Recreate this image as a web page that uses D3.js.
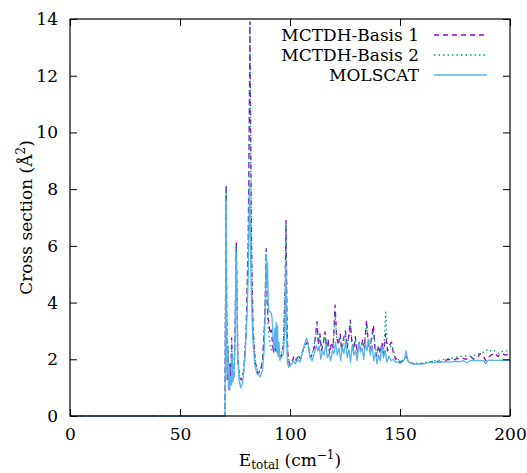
<!DOCTYPE html>
<html>
<head>
<meta charset="utf-8">
<script src="https://cdn.jsdelivr.net/npm/d3@7"></script>
<style>
  body { margin: 0; background: #fff; }
  svg text { font-family: "DejaVu Serif", "Liberation Serif", serif; fill: #000; }
</style>
</head>
<body>
<svg id="chart" width="527" height="473"></svg>
<script>
// MOLSCAT (reference calculation)
const molscatX = [0, 70.4, 70.6, 70.8, 71.0, 71.2, 71.4, 71.7, 72.0, 72.3, 72.6, 73.0, 73.4, 73.7, 74.0, 74.5, 75.0, 75.5, 75.8, 76.2, 76.8, 77.6, 78.5, 79.5, 80.5, 81.2, 81.6, 81.9, 82.3, 83.0, 84.0, 85.0, 86.4, 87.5, 88.3, 88.9, 89.3, 89.6, 89.8, 90.1, 90.5, 91.3, 91.8, 92.3, 92.8, 93.1, 93.4, 93.7, 94.0, 94.3, 94.6, 95.0, 95.4, 96.0, 97.0, 97.7, 98.1, 98.4, 98.8, 99.4, 100.5, 101.5, 102.5, 103.5, 104.5, 105.5, 106.5, 107.5, 108.2, 109.0, 110.0, 111.0, 112.0, 112.6, 113.3, 114.0, 114.8, 115.5, 116.3, 117.0, 117.8, 118.5, 119.3, 120.0, 120.7, 121.5, 122.3, 123.0, 123.8, 124.5, 125.3, 126.0, 126.8, 127.5, 128.3, 129.0, 129.8, 130.5, 131.3, 132.0, 132.8, 133.5, 134.3, 135.0, 135.8, 136.5, 137.3, 138.0, 138.8, 139.5, 140.3, 141.0, 141.8, 142.5, 143.3, 144.0, 145.0, 146.0, 147.0, 148.0, 149.0, 150.0, 151.0, 152.0, 152.8, 153.5, 155.0, 157.0, 159.0, 161.0, 163.0, 165.0, 167.0, 169.0, 171.0, 173.0, 175.0, 177.0, 179.0, 180.5, 182.0, 184.0, 186.0, 188.0, 189.0, 190.0, 192.0, 194.0, 196.0, 198.0, 200.0];
const molscatY = [0, 0, 2.0, 4.5, 7.6, 3.0, 1.5, 2.4, 1.0, 1.8, 0.9, 1.4, 1.1, 2.2, 1.2, 1.5, 2.6, 5.8, 4.6, 2.2, 1.3, 0.99, 1.2, 2.0, 3.6, 5.5, 8.3, 7.0, 4.8, 2.8, 1.8, 1.5, 1.38, 1.6, 2.4, 4.2, 5.7, 4.6, 5.4, 4.0, 3.7, 3.65, 3.5, 2.8, 2.3, 3.1, 2.4, 3.3, 2.3, 3.2, 2.1, 2.6, 1.97, 2.05, 2.2, 3.0, 5.4, 3.0, 1.9, 1.72, 1.8, 1.95, 1.85, 2.0, 1.9, 2.2, 2.5, 2.75, 2.6, 2.1, 1.95, 2.2, 2.5, 2.3, 2.45, 2.0, 2.3, 2.15, 2.55, 2.05, 2.2, 1.95, 2.3, 2.2, 2.6, 2.15, 2.4, 1.95, 2.45, 2.2, 2.65, 2.05, 2.35, 1.9, 2.5, 2.15, 2.3, 1.95, 2.6, 2.25, 2.4, 2.0, 2.55, 2.3, 2.7, 2.15, 2.5, 1.95, 2.25, 1.85, 2.15, 1.95, 2.45, 2.05, 2.3, 1.9, 2.1, 1.95, 2.0, 1.9, 1.9, 1.85, 1.9, 2.0, 2.3, 1.95, 1.85, 1.82, 1.84, 1.85, 1.88, 1.88, 1.9, 1.9, 1.92, 1.9, 1.93, 1.92, 1.95, 1.88, 1.95, 1.95, 1.96, 1.95, 1.85, 1.96, 1.97, 1.96, 1.97, 1.96, 1.97];

// MCTDH-Basis 1
const basis1X = [0, 70.4, 70.6, 70.8, 71.0, 71.2, 71.5, 71.9, 72.2, 72.6, 73.0, 73.5, 73.9, 74.5, 75.0, 75.6, 75.9, 76.3, 77.0, 78.0, 79.0, 80.0, 81.0, 81.5, 81.8, 82.1, 82.5, 83.2, 84.2, 85.3, 86.5, 87.5, 88.5, 89.2, 89.6, 90.0, 90.5, 91.0, 91.5, 92.0, 92.5, 93.0, 93.5, 94.0, 94.6, 95.3, 96.0, 97.0, 97.8, 98.2, 98.6, 99.0, 99.8, 100.8, 101.8, 102.8, 103.8, 104.8, 105.8, 106.8, 107.8, 108.5, 109.3, 110.2, 111.0, 111.7, 112.3, 112.9, 113.6, 114.3, 115.2, 115.9, 116.6, 117.3, 118.0, 118.8, 119.6, 120.5, 121.2, 122.0, 122.8, 123.5, 124.3, 125.2, 126.0, 126.8, 127.4, 128.1, 128.9, 129.7, 130.5, 131.4, 132.2, 133.0, 133.8, 134.8, 135.5, 136.3, 137.1, 137.9, 138.6, 139.4, 140.2, 141.0, 141.8, 142.6, 143.5, 144.3, 145.2, 146.2, 147.0, 148.0, 149.0, 150.0, 151.0, 152.0, 153.0, 154.0, 156.0, 158.0, 160.0, 162.0, 164.0, 166.0, 168.0, 170.0, 172.0, 174.0, 176.0, 178.0, 180.0, 182.0, 183.5, 185.0, 186.5, 188.0, 189.0, 190.0, 191.5, 193.0, 194.5, 196.0, 198.0, 200.0];
const basis1Y = [0, 0, 3.0, 5.0, 8.15, 4.0, 1.2, 2.3, 0.9, 1.8, 1.2, 2.75, 1.3, 1.4, 2.8, 6.1, 4.2, 2.0, 1.35, 1.27, 1.6, 2.8, 6.0, 10.5, 13.9, 10.0, 6.0, 3.0, 1.9, 1.5, 1.55, 1.9, 3.3, 5.9, 4.0, 3.5, 3.2, 2.9, 3.03, 2.6, 2.2, 2.8, 2.3, 2.6, 2.1, 2.08, 2.1, 2.5, 4.5, 6.9, 3.5, 2.2, 1.8, 1.9, 2.1, 1.95, 2.15, 2.0, 2.3, 2.5, 2.6, 2.4, 2.05, 2.2, 2.4, 2.9, 3.33, 2.5, 2.9, 2.3, 2.6, 2.97, 2.4, 2.7, 2.2, 2.6, 2.4, 3.91, 2.8, 2.5, 2.9, 2.3, 2.7, 3.0, 2.4, 2.9, 3.38, 2.6, 2.3, 2.8, 2.2, 2.6, 2.3, 2.7, 2.4, 3.38, 2.6, 2.3, 2.8, 3.2, 2.4, 2.1, 2.5, 2.2, 2.6, 2.2, 2.9, 2.3, 2.5, 2.6, 2.2, 2.0, 2.05, 1.9, 1.95, 2.0, 2.1, 1.9, 1.85, 1.83, 1.85, 1.87, 1.9, 1.95, 1.9, 1.95, 2.0, 1.97, 2.02, 2.05, 2.0, 2.1, 2.0, 2.05, 2.2, 2.1, 1.95, 2.05, 2.15, 2.22, 2.1, 2.2, 2.15, 2.2];

// MCTDH-Basis 2
const basis2X = [0, 70.4, 70.6, 70.8, 71.0, 71.2, 71.5, 71.9, 72.2, 72.6, 73.0, 73.5, 73.9, 74.5, 75.0, 75.6, 75.9, 76.3, 77.0, 78.0, 79.0, 80.0, 81.0, 81.5, 81.8, 82.1, 82.5, 83.2, 84.2, 85.3, 86.5, 87.5, 88.5, 89.2, 89.6, 90.0, 90.5, 91.0, 91.5, 92.0, 92.5, 93.0, 93.5, 94.0, 94.6, 95.3, 96.0, 97.0, 97.8, 98.2, 98.6, 99.0, 99.8, 100.8, 101.8, 102.8, 103.8, 104.8, 105.8, 106.8, 107.8, 108.5, 109.3, 110.2, 111.0, 111.7, 112.3, 112.9, 113.6, 114.3, 115.2, 115.9, 116.6, 117.3, 118.0, 118.8, 119.6, 120.5, 121.2, 122.0, 122.8, 123.5, 124.3, 125.2, 126.0, 126.8, 127.4, 128.1, 128.9, 129.7, 130.5, 131.4, 132.2, 133.0, 133.8, 134.8, 135.5, 136.3, 137.1, 137.9, 138.6, 139.4, 140.2, 141.0, 141.8, 142.6, 143.5, 144.3, 145.2, 146.2, 147.0, 148.0, 149.0, 150.0, 151.0, 152.0, 153.0, 154.0, 156.0, 158.0, 160.0, 162.0, 164.0, 166.0, 168.0, 170.0, 172.0, 174.0, 176.0, 178.0, 180.0, 182.0, 184.0, 186.0, 188.0, 190.0, 191.5, 193.0, 195.0, 197.0, 200.0];
const basis2Y = [0, 0, 3.2, 5.5, 8.1, 4.2, 1.3, 2.5, 0.95, 1.9, 1.1, 2.6, 1.2, 1.45, 2.7, 6.0, 4.4, 2.1, 1.4, 1.3, 1.7, 2.9, 6.2, 10.8, 13.85, 10.2, 6.1, 3.1, 1.95, 1.55, 1.6, 2.0, 3.4, 5.9, 4.1, 3.2, 2.8, 2.45, 2.33, 2.5, 2.6, 2.3, 2.8, 2.2, 2.4, 2.1, 2.15, 2.6, 4.4, 6.8, 3.4, 2.2, 1.85, 1.95, 2.05, 2.0, 2.1, 2.05, 2.25, 2.45, 2.55, 2.35, 2.1, 2.25, 2.5, 2.8, 3.2, 2.6, 2.8, 2.4, 2.5, 2.9, 2.5, 2.6, 2.3, 2.5, 2.5, 3.6, 2.7, 2.6, 2.8, 2.4, 2.6, 2.9, 2.5, 2.8, 3.3, 2.7, 2.4, 2.7, 2.3, 2.5, 2.4, 2.6, 2.5, 3.2, 2.7, 2.4, 2.7, 3.0, 2.5, 2.2, 2.4, 2.3, 2.5, 2.3, 3.66, 2.4, 2.4, 2.5, 2.3, 2.05, 2.0, 1.95, 1.95, 2.0, 2.05, 1.9, 1.85, 1.86, 1.87, 1.9, 1.92, 1.95, 1.97, 2.0, 2.02, 2.05, 2.08, 2.1, 2.12, 2.1, 2.15, 2.2, 2.25, 2.36, 2.28, 2.3, 2.2, 2.3, 2.3];

const xTicks = [0, 50, 100, 150, 200];
const yTicks = [0, 2, 4, 6, 8, 10, 12, 14];

const seriesNames = ["MCTDH-Basis 1", "MCTDH-Basis 2", "MOLSCAT"];
const seriesColors = ["#9400d3", "#009e73", "#56b4e9"];
const seriesDash = ["5,4", "1.5,3", null];

const series = [
    { name: seriesNames[0], x: basis1X, y: basis1Y },
    { name: seriesNames[1], x: basis2X, y: basis2Y },
    { name: seriesNames[2], x: molscatX, y: molscatY }
];

const FONT = "'DejaVu Serif', 'Liberation Serif', serif";
const margin = { left: 70, right: 17, top: 19, bottom: 57 };
const width = 527, height = 473;

const svg = d3.select("#chart");

const x = d3.scaleLinear().domain([0, 200]).range([margin.left, width - margin.right]);
const y = d3.scaleLinear().domain([0, 14]).range([height - margin.bottom, margin.top]);

const line = d3.line()
    .x(d => x(d[0]))
    .y(d => y(d[1]));

// curves
const plot = svg.append("g").attr("id", "curves");
series.forEach((s, i) => {
    plot.append("path")
        .datum(s.x.map((v, j) => [v, s.y[j]]))
        .attr("d", line)
        .attr("fill", "none")
        .attr("stroke", seriesColors[i])
        .attr("stroke-width", 1.3)
        .attr("stroke-linejoin", "round")
        .attr("stroke-dasharray", seriesDash[i]);
});

// frame + ticks (mirrored, pointing inward)
const tickLen = 7;
const axisG = svg.append("g").attr("id", "axes");

axisG.append("g")
    .attr("transform", `translate(0,${y(0)})`)
    .call(d3.axisBottom(x).tickValues(xTicks).tickSizeInner(-tickLen).tickSizeOuter(0).tickPadding(12));
axisG.append("g")
    .attr("transform", `translate(0,${y(14)})`)
    .call(d3.axisTop(x).tickValues(xTicks).tickSizeInner(-tickLen).tickSizeOuter(0).tickFormat(""));
axisG.append("g")
    .attr("transform", `translate(${x(0)},0)`)
    .call(d3.axisLeft(y).tickValues(yTicks).tickSizeInner(-tickLen).tickSizeOuter(0).tickPadding(12));
axisG.append("g")
    .attr("transform", `translate(${x(200)},0)`)
    .call(d3.axisRight(y).tickValues(yTicks).tickSizeInner(-tickLen).tickSizeOuter(0).tickFormat(""));

axisG.selectAll("g").attr("font-family", null).attr("font-size", null);
axisG.selectAll(".domain").remove();
axisG.selectAll(".tick line").attr("stroke", "#000").attr("stroke-width", 1);
axisG.selectAll(".tick text")
    .style("font-family", FONT)
    .style("font-size", "17px");

axisG.append("rect")
    .attr("x", x(0)).attr("y", y(14))
    .attr("width", x(200) - x(0)).attr("height", y(0) - y(14))
    .attr("fill", "none").attr("stroke", "#000").attr("stroke-width", 1.2);

// axis titles
const xTitle = svg.append("text")
    .attr("x", (x(0) + x(200)) / 2).attr("y", 466)
    .attr("text-anchor", "middle")
    .style("font-family", FONT)
    .style("font-size", "17px");
xTitle.append("tspan").text("E");
xTitle.append("tspan").attr("dy", 3).style("font-size", "12px").text("total");
xTitle.append("tspan").attr("dy", -3).text(" (cm");
xTitle.append("tspan").attr("dy", -7).style("font-size", "12px").text("−1");
xTitle.append("tspan").attr("dy", 7).text(")");

const yTitle = svg.append("text")
    .attr("transform", `translate(32,${(y(0) + y(14)) / 2}) rotate(-90)`)
    .attr("text-anchor", "middle")
    .style("font-family", FONT)
    .style("font-size", "17px");
yTitle.append("tspan").text("Cross section (Å");
yTitle.append("tspan").attr("dy", -7).style("font-size", "12px").text("2");
yTitle.append("tspan").attr("dy", 7).text(")");

// legend
const legend = svg.append("g").attr("id", "legend");
seriesNames.forEach((name, i) => {
    const ly = 35 + i * 20;
    legend.append("text")
        .attr("x", 419).attr("y", ly + 6)
        .attr("text-anchor", "end")
        .style("font-family", FONT)
        .style("font-size", "17px")
        .text(name);
    legend.append("line")
        .attr("x1", 434).attr("x2", 487)
        .attr("y1", ly).attr("y2", ly)
        .attr("stroke", seriesColors[i])
        .attr("stroke-width", 1.3)
        .attr("stroke-dasharray", seriesDash[i]);
});
</script>
</body>
</html>
